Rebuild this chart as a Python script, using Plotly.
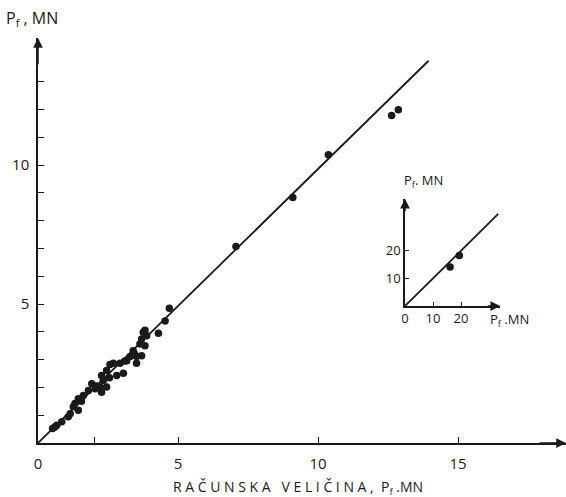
import plotly.graph_objects as go

# main chart data (computed vs measured P_f, MN)
x_main = [0.52, 0.67, 0.85, 1.08, 1.26, 1.44, 1.32, 1.44, 1.62, 1.80, 2.04, 1.92, 2.21, 2.27, 2.45,
          2.33, 2.27, 2.45, 2.81, 3.05, 2.57, 2.69, 2.93, 3.17, 3.52, 3.29, 3.52, 3.70, 3.40,
          3.64, 3.82, 3.70, 3.88, 3.76, 3.82, 4.30, 4.54, 4.69, 7.07, 9.10, 10.37, 12.63, 12.87,
          0.60, 1.15, 1.55, 2.10, 2.55, 3.10, 3.45]
y_main = [0.52, 0.64, 0.76, 0.94, 1.30, 1.18, 1.42, 1.59, 1.71, 1.89, 1.95, 2.13, 2.01, 1.83, 2.01,
          2.25, 2.43, 2.61, 2.43, 2.51, 2.82, 2.87, 2.87, 2.96, 2.87, 3.11, 3.11, 3.14, 3.32,
          3.56, 3.50, 3.74, 3.86, 3.98, 4.06, 3.95, 4.39, 4.85, 7.07, 8.83, 10.37, 11.78, 11.99,
          0.58, 1.05, 1.50, 2.05, 2.35, 2.95, 3.20]
fit_main_x = [0, 13.95]
fit_main_y = [0, 13.75]

x_inset = [16.1, 19.4]
y_inset = [14.0, 18.2]
fit_inset_x = [0, 33.3]
fit_inset_y = [0, 33.1]

x_ticks = [0, 2, 5, 10, 15]
x_ticktext = ["0", "", "5", "10", "15"]
y_ticks = list(range(1, 14))
y_ticktext = ["5" if v == 5 else "10" if v == 10 else "" for v in y_ticks]

inset_x_ticks = [10, 20]
inset_y_ticks = [10, 20]

FONT = "Open Sans"
INK = "#1a1a1a"

fig = go.Figure()
fig.add_trace(go.Scatter(x=fit_main_x, y=fit_main_y, mode="lines",
                         line=dict(color=INK, width=1.8), showlegend=False, hoverinfo="skip"))
fig.add_trace(go.Scatter(x=x_main, y=y_main, mode="markers",
                         marker=dict(color=INK, size=7.5), showlegend=False, cliponaxis=False))
fig.add_trace(go.Scatter(x=fit_inset_x, y=fit_inset_y, mode="lines", xaxis="x2", yaxis="y2",
                         line=dict(color=INK, width=1.8), showlegend=False, hoverinfo="skip"))
fig.add_trace(go.Scatter(x=x_inset, y=y_inset, mode="markers", xaxis="x2", yaxis="y2",
                         marker=dict(color=INK, size=7.5), showlegend=False, cliponaxis=False))

XMAX = 528 / 28
YMAX = 405 / 27.8
IXMAX = 34
IYMAX = 38.6

fig.update_layout(
    width=566, height=497,
    margin=dict(l=38, r=0, t=38, b=54),
    paper_bgcolor="white", plot_bgcolor="white",
    font=dict(family=FONT, size=14, color=INK),
    xaxis=dict(range=[0, XMAX], showgrid=False, zeroline=False, showline=True,
               linecolor=INK, linewidth=1.5, ticks="inside", ticklen=6, tickwidth=1.3,
               tickcolor=INK, tickvals=x_ticks, ticktext=x_ticktext,
               tickfont=dict(size=15, family=FONT), ticklabelstandoff=6),
    yaxis=dict(range=[0, YMAX], showgrid=False, zeroline=False, showline=True,
               linecolor=INK, linewidth=1.5, ticks="inside", ticklen=6, tickwidth=1.3,
               tickcolor=INK, tickvals=y_ticks, ticktext=y_ticktext,
               tickfont=dict(size=15, family=FONT), ticklabelstandoff=4),
    xaxis2=dict(domain=[(405 - 38) / 528, (405 - 38 + IXMAX * 2.8) / 528], range=[0, IXMAX],
                anchor="y2", showgrid=False, zeroline=False, showline=True,
                linecolor=INK, linewidth=1.5, ticks="inside", ticklen=4, tickwidth=1.2,
                tickcolor=INK, tickvals=[0] + inset_x_ticks,
                ticktext=["0"] + [str(v) for v in inset_x_ticks],
                tickfont=dict(size=13, family=FONT)),
    yaxis2=dict(domain=[(443 - 306) / 405, (443 - 306 + IYMAX * 2.78) / 405], range=[0, IYMAX],
                anchor="x2", showgrid=False, zeroline=False, showline=True,
                linecolor=INK, linewidth=1.5, ticks="inside", ticklen=4, tickwidth=1.2,
                tickcolor=INK, tickvals=inset_y_ticks,
                ticktext=[str(v) for v in inset_y_ticks],
                tickfont=dict(size=13, family=FONT)),
)

# axis arrows
arrow = dict(showarrow=True, arrowhead=2, arrowsize=1.3, arrowwidth=1.5, arrowcolor=INK, text="")
fig.add_annotation(x=XMAX, y=0, ax=XMAX - 1, ay=0, axref="x", ayref="y", xref="x", yref="y", **arrow)
fig.add_annotation(x=0, y=YMAX, ax=0, ay=YMAX - 1, axref="x", ayref="y", xref="x", yref="y", **arrow)
fig.add_annotation(x=IXMAX, y=0, ax=IXMAX - 5, ay=0, axref="x2", ayref="y2", xref="x2", yref="y2", **arrow)
fig.add_annotation(x=0, y=IYMAX, ax=0, ay=IYMAX - 5, axref="x2", ayref="y2", xref="x2", yref="y2", **arrow)

# labels
fig.add_annotation(x=0, y=1, xref="paper", yref="paper", xshift=-34, yshift=20,
                   xanchor="left", yanchor="middle", showarrow=False,
                   text="P<sub>f</sub> , MN", font=dict(size=16, family=FONT, color=INK))
fig.add_annotation(x=0.5, y=0, xref="paper", yref="paper", yshift=-44, xshift=-4,
                   xanchor="center", yanchor="middle", showarrow=False,
                   text="R A Č U N S K A &nbsp; V E L I Č I N A , &nbsp;P<sub>f</sub> .MN",
                   font=dict(size=14, family=FONT, color=INK))
fig.add_annotation(x=0, y=IYMAX, xref="x2", yref="y2", yshift=6, xshift=-3,
                   xanchor="left", yanchor="bottom", showarrow=False,
                   text="P<sub>f</sub>. MN", font=dict(size=13, family=FONT, color=INK))
fig.add_annotation(x=IXMAX, y=0, xref="x2", yref="y2", yshift=-2, xshift=-12,
                   xanchor="left", yanchor="top", showarrow=False,
                   text="P<sub>f</sub> .MN", font=dict(size=13, family=FONT, color=INK))

fig.write_html("out.html")
